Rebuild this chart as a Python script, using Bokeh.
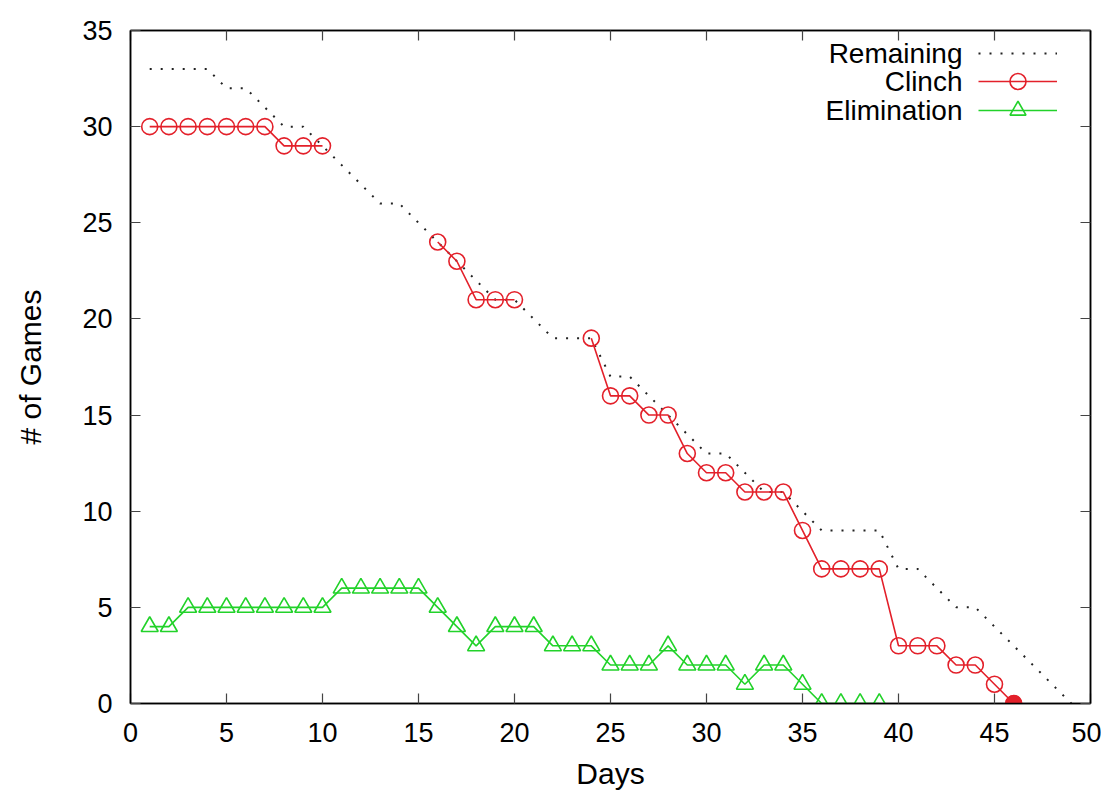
import numpy as np
from bokeh.plotting import figure
from bokeh.models import Legend, LegendItem, Label, LinearAxis, Range1d, FixedTicker
from bokeh.embed import file_html
from bokeh.resources import INLINE

# ---------------- data ----------------
remaining_days = list(range(1, 50))
remaining = [33, 33, 33, 33, 32, 32, 31, 30, 30, 29,
             28, 27, 26, 26, 25, 24, 23, 22, 21, 21,
             20, 19, 19, 19, 17, 17, 16, 15, 14, 13,
             13, 12, 11, 11, 10, 9, 9, 9, 9, 7,
             7, 6, 5, 5, 4, 3, 2, 1, 0]

clinch_days = list(range(1, 47))
clinch = [30, 30, 30, 30, 30, 30, 30, 29, 29, 29,
          None, None, None, None, None, 24, 23, 21, 21, 21,
          None, None, None, 19, 16, 16, 15, 15, 13, 12,
          12, 11, 11, 11, 9, 7, 7, 7, 7, 3,
          3, 3, 2, 2, 1, 0]

elim_days = list(range(1, 40))
elimination = [4, 4, 5, 5, 5, 5, 5, 5, 5, 5,
               6, 6, 6, 6, 6, 5, 4, 3, 4, 4,
               4, 3, 3, 3, 2, 2, 2, 3, 2, 2,
               2, 1, 2, 2, 1, 0, 0, 0, 0]

clinched_day = [46]
clinched_val = [0]

series_labels = ["Remaining", "Clinch", "Elimination"]
x_ticks = list(range(0, 51, 5))
y_ticks = list(range(0, 36, 5))
x_label = "Days"
y_label = "# of Games"

FONT = "Liberation Sans"
RED = "#e3202a"
GREEN = "#22d22a"

# ---------------- figure ----------------
W, H = 1101, 794
BL, BR, BT, BB = 130, 11, 30, 91
p = figure(width=W, height=H, output_backend="svg", toolbar_location=None,
           x_range=Range1d(0, 50), y_range=Range1d(0, 35),
           min_border_left=BL, min_border_right=BR,
           min_border_top=BT, min_border_bottom=BB)
p.grid.visible = False
p.outline_line_color = "black"
p.outline_line_width = 1.5
p.background_fill_color = "white"
p.border_fill_color = "white"

def style_axis(ax, ticks, labels=True):
    ax.ticker = FixedTicker(ticks=ticks)
    ax.axis_line_color = "black"
    ax.axis_line_width = 1.5
    ax.major_tick_in = 10
    ax.major_tick_out = 0
    ax.major_tick_line_color = "#444444"
    ax.major_tick_line_width = 1.2
    ax.minor_tick_line_color = None
    ax.major_label_text_font = FONT
    ax.major_label_text_font_size = "27px"
    ax.major_label_text_color = "black"
    ax.axis_label_text_font = FONT
    ax.axis_label_text_font_size = "30px"
    ax.axis_label_text_font_style = "normal"
    ax.axis_label_text_color = "black"
    if not labels:
        ax.major_label_text_font_size = "0px"
        ax.major_label_text_alpha = 0
        ax.major_label_standoff = 0

xa = p.xaxis[0]
ya = p.yaxis[0]
style_axis(xa, x_ticks)
style_axis(ya, y_ticks)
xa.axis_label = x_label
ya.axis_label = y_label
xa.major_label_standoff = 19
ya.major_label_standoff = 18
xa.axis_label_standoff = 12
ya.axis_label_standoff = 32

top = LinearAxis()
style_axis(top, x_ticks, labels=False)
p.add_layout(top, "above")
right = LinearAxis()
style_axis(right, y_ticks, labels=False)
p.add_layout(right, "right")

# ---------------- series ----------------
clinch_arr = np.array([np.nan if v is None else v for v in clinch], dtype=float)

r_rem = p.line(remaining_days, remaining, line_color="#222222", line_width=2,
               line_dash="2 9")

r_cl_line = p.line(clinch_days, clinch_arr, line_color=RED, line_width=1.6)
r_cl_pts = p.scatter(clinch_days, clinch_arr, marker="circle", size=16,
                     line_color=RED, line_width=1.6, fill_color=None)

r_el_line = p.line(elim_days, elimination, line_color=GREEN, line_width=1.6)
r_el_pts = p.scatter(elim_days, elimination, marker="triangle", size=17,
                     line_color=GREEN, line_width=1.6, fill_color=None)

p.scatter(clinched_day, clinched_val, marker="circle", size=16,
          line_color=RED, fill_color=RED, line_width=1.0)

# ---------------- legend (samples on right, text right-aligned on left) ----------------
frame_h = H - BT - BB
row_offsets = [23, 51, 80]   # px below the frame top (row centres)
sample_left = 848            # px from frame left
text_right = 832             # px from frame left
GH = 40
item_renderers = [[r_rem], [r_cl_line, r_cl_pts], [r_el_line, r_el_pts]]
for txt, dy, rends in zip(series_labels, row_offsets, item_renderers):
    lg = Legend(items=[LegendItem(label=" ", renderers=rends)],
                location=(sample_left, frame_h - dy - GH // 2))
    lg.glyph_width = 79
    lg.glyph_height = GH
    lg.label_standoff = 0
    lg.label_text_font_size = "1px"
    lg.label_height = 1
    lg.label_width = 0
    lg.padding = 0
    lg.margin = 0
    lg.spacing = 0
    lg.border_line_alpha = 0
    lg.background_fill_alpha = 0
    p.add_layout(lg, "center")
    p.add_layout(Label(x=text_right, y=frame_h - dy, x_units="screen", y_units="screen",
                       text=txt, text_align="right", text_baseline="middle",
                       text_font=FONT, text_font_size="28px", text_color="black"))

open("out.html", "w").write(file_html(p, INLINE))
